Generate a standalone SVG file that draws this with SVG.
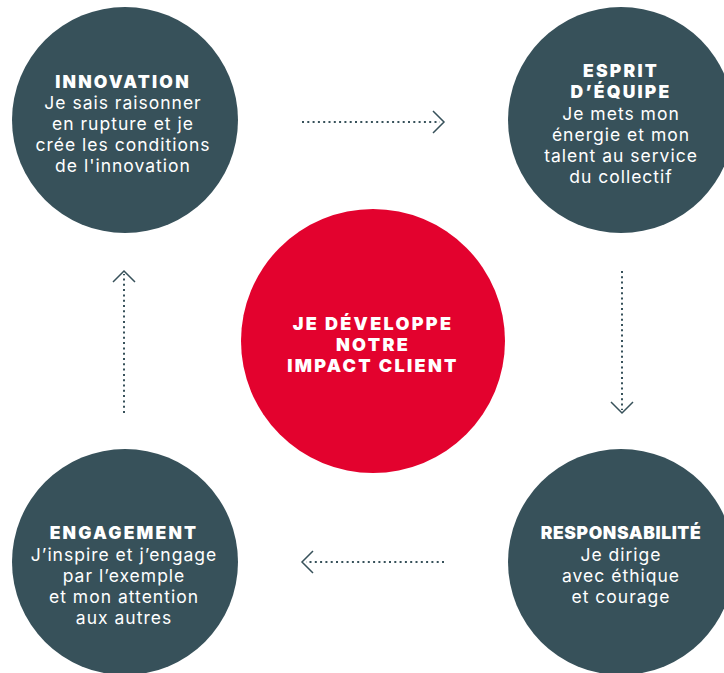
<svg xmlns="http://www.w3.org/2000/svg" width="724" height="673" viewBox="0 0 724 673">
<style>
.node{fill:#37515a}
.core{fill:#e3022e}
.t{font-family:Inter,"Open Sans","Liberation Sans",sans-serif;fill:#fff;text-anchor:middle}
.h{font-size:17.5px;font-weight:900;letter-spacing:2.2px}
.b{font-size:17.5px;font-weight:400;letter-spacing:1px}
.c{font-size:18px;font-weight:900;letter-spacing:2.3px}
.dot{fill:none;stroke:#37515a;stroke-width:2;stroke-dasharray:2 3.3}
.head{fill:none;stroke:#37515a;stroke-width:1.5}
</style>
<rect width="724" height="673" fill="#fff"/>
<g id="connectors">
<line class="dot" x1="302" y1="122" x2="440" y2="122"/>
<polyline class="head" points="433,111 444,122 433,133"/>
<line class="dot" x1="622" y1="271" x2="622" y2="410"/>
<polyline class="head" points="611,402 622,413 633,402"/>
<line class="dot" x1="444" y1="562" x2="306" y2="562"/>
<polyline class="head" points="313,551 302,562 313,573"/>
<line class="dot" x1="124" y1="413" x2="124" y2="274"/>
<polyline class="head" points="113,282 124,271 135,282"/>
</g>
<g id="innovation">
<circle class="node" cx="125" cy="120" r="113"/>
<text class="t h" x="123" y="88">INNOVATION</text>
<text class="t b" x="123" y="109">Je sais raisonner</text>
<text class="t b" x="123" y="130">en rupture et je</text>
<text class="t b" x="123" y="151">crée les conditions</text>
<text class="t b" x="123" y="172">de l'innovation</text>
</g>
<g id="esprit">
<circle class="node" cx="621" cy="120" r="113"/>
<text class="t h" x="621" y="77">ESPRIT</text>
<text class="t h" x="621" y="98">D’ÉQUIPE</text>
<text class="t b" x="621" y="120">Je mets mon</text>
<text class="t b" x="621" y="141">énergie et mon</text>
<text class="t b" x="621" y="162">talent au service</text>
<text class="t b" x="621" y="183">du collectif</text>
</g>
<g id="centre">
<circle class="core" cx="373" cy="341" r="132"/>
<text class="t c" x="373" y="330">JE DÉVELOPPE</text>
<text class="t c" x="373" y="351">NOTRE</text>
<text class="t c" x="373" y="372">IMPACT CLIENT</text>
</g>
<g id="engagement">
<circle class="node" cx="125" cy="562" r="113"/>
<text class="t h" x="124" y="539">ENGAGEMENT</text>
<text class="t b" x="124" y="561">J’inspire et j’engage</text>
<text class="t b" x="124" y="582">par l’exemple</text>
<text class="t b" x="124" y="603">et mon attention</text>
<text class="t b" x="124" y="624">aux autres</text>
</g>
<g id="responsabilite">
<circle class="node" cx="621" cy="562" r="113"/>
<text class="t h" x="621" y="539" style="letter-spacing:0.6px">RESPONSABILITÉ</text>
<text class="t b" x="621" y="561">Je dirige</text>
<text class="t b" x="621" y="582">avec éthique</text>
<text class="t b" x="621" y="603">et courage</text>
</g>
</svg>
